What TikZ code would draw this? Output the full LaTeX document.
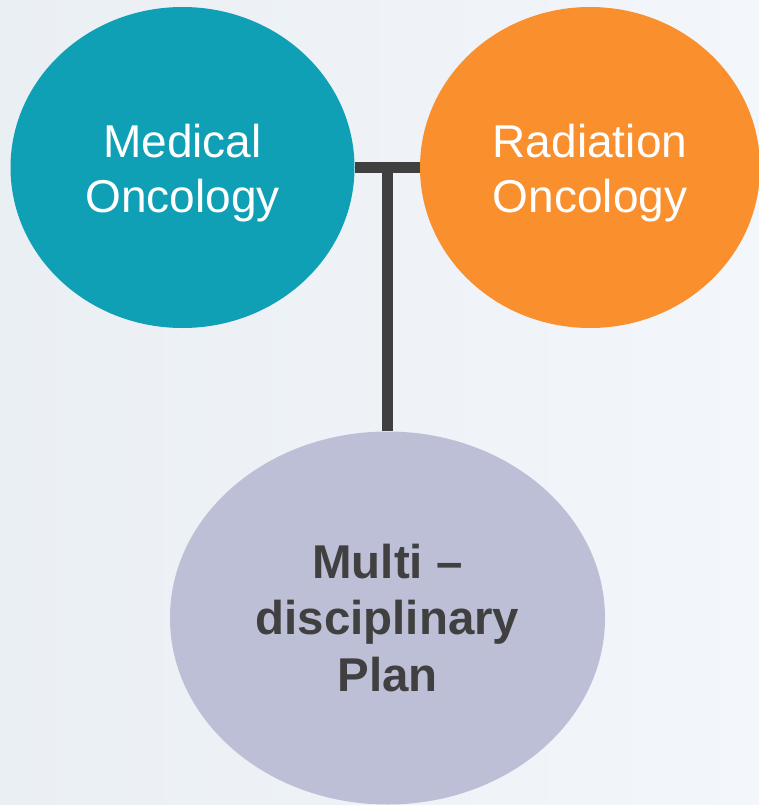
\documentclass[tikz,border=0pt]{standalone}
\usepackage{fontspec}
\setmainfont{Liberation Sans}
\usetikzlibrary{shapes.geometric}

\definecolor{nenTrai}{RGB}{234,239,244}
\definecolor{nenPhai}{RGB}{243,246,250}
\definecolor{xanhLo}{RGB}{16,160,182}
\definecolor{camDam}{RGB}{249,143,45}
\definecolor{timNhat}{RGB}{188,191,214}
\definecolor{xamDam}{RGB}{64,64,64}

\begin{document}
\begin{tikzpicture}[x=0.02cm, y=-0.02cm,
		khoi/.style={ellipse, inner sep=0pt, draw=none},
		chu/.style={align=center, text=white, font=\fontsize{26.2}{31.3}\selectfont},
		chuDam/.style={align=center, text=xamDam, font=\fontsize{27}{32.2}\selectfont\bfseries},
		noi/.style={draw=xamDam, line width=6.5pt, line cap=butt}]

	% Nền
	\useasboundingbox (0,0) rectangle (759,805);
	\shade[left color=nenTrai, right color=nenPhai] (0,0) rectangle (759,805);

	% Các hình elip
	\node[khoi, fill=xanhLo, minimum width=344*0.02cm, minimum height=321*0.02cm] (med) at (182.5,167.5) {};
	\node[khoi, fill=camDam, minimum width=340*0.02cm, minimum height=321*0.02cm] (rad) at (590,167.5) {};
	\node[khoi, fill=timNhat, minimum width=435*0.02cm, minimum height=373*0.02cm] (plan) at (387.5,618) {};

	% Đường nối chữ T
	\coordinate (giua) at (med.east -| plan.north);
	\draw[noi] (med.east) -- (rad.west);
	\draw[noi] (giua) -- (plan.north);

	% Nhãn
	\node[chu] (medtxt) at ([yshift=-3pt]med.center) {Medical\\Oncology};
	\node[chu] (radtxt) at ([yshift=-3pt]rad.center) {Radiation\\Oncology};
	\node[chuDam] (plantxt) at (plan.center) {Multi --\\disciplinary\\Plan};

\end{tikzpicture}
\end{document}
